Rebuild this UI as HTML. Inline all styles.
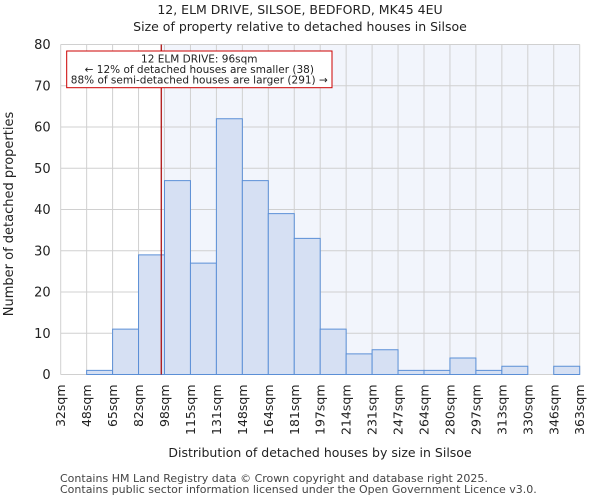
<!DOCTYPE html>
<html><head><meta charset="utf-8"><style>
body{margin:0;background:#fff;font-family:"DejaVu Sans","Liberation Sans",sans-serif;}
text{font-family:"DejaVu Sans","Liberation Sans",sans-serif;}
</style></head><body>
<svg id="chart" width="600" height="500" xmlns="http://www.w3.org/2000/svg">
<text x="300" y="14" text-anchor="middle" font-size="12.5" fill="#222">12, ELM DRIVE, SILSOE, BEDFORD, MK45 4EU</text>
<text x="300" y="31" text-anchor="middle" font-size="12.5" fill="#222">Size of property relative to detached houses in Silsoe</text>
<g id="plot"></g>
<text x="320" y="457" text-anchor="middle" font-size="12.5" fill="#222">Distribution of detached houses by size in Silsoe</text>
<text transform="translate(13,214) rotate(-90)" text-anchor="middle" font-size="13" fill="#222">Number of detached properties</text>
<text x="60" y="482" font-size="11" fill="#444">Contains HM Land Registry data © Crown copyright and database right 2025.</text>
<text x="60" y="493" font-size="11" fill="#444">Contains public sector information licensed under the Open Government Licence v3.0.</text>
</svg>
<script>
const binLabels=["32sqm","48sqm","65sqm","82sqm","98sqm","115sqm","131sqm","148sqm","164sqm","181sqm","197sqm","214sqm","231sqm","247sqm","264sqm","280sqm","297sqm","313sqm","330sqm","346sqm","363sqm"];
const binEdges=[32,48,65,82,98,115,131,148,164,181,197,214,231,247,264,280,297,313,330,346,363];
const counts=[0,1,11,29,47,27,62,47,39,33,11,5,6,1,1,4,1,2,0,2];
const yTicks=[0,10,20,30,40,50,60,70,80];
const propertySize=96;
const NS="http://www.w3.org/2000/svg";
const L=60.7,R=579.7,T=44.5,B=374.5,yMax=80;
const nb=counts.length;
function xIdx(i){return L+(R-L)*i/nb;}
function xVal(v){let i=0;while(i<nb-1&&v>binEdges[i+1])i++;return xIdx(i)+(v-binEdges[i])/(binEdges[i+1]-binEdges[i])*(R-L)/nb;}
function y(v){return B-(B-T)*v/yMax;}
const g=document.getElementById('plot');
function mk(t,a){const e=document.createElementNS(NS,t);for(const k in a)e.setAttribute(k,a[k]);g.appendChild(e);return e;}
const mx=xVal(propertySize);
let sh=mk('rect',{x:mx,y:T,width:R-mx,height:B-T,fill:'#f2f5fc'});


for(let i=0;i<=nb;i++){let l=mk('line',{x1:xIdx(i),x2:xIdx(i),y1:T,y2:B,stroke:'#d0d0d0','stroke-width':1});

}
yTicks.forEach(t=>{let l=mk('line',{x1:L,x2:R,y1:y(t),y2:y(t),stroke:'#d0d0d0','stroke-width':1});


let tx=mk('text',{x:L-10,y:y(t)+4.5,'text-anchor':'end','font-size':13,fill:'#222'});tx.textContent=t;

});
counts.forEach((c,i)=>{if(c<=0)return;let r=mk('rect',{x:xIdx(i),y:y(c),width:(R-L)/nb,height:B-y(c),fill:'#d6e0f3',stroke:'#5b8fd6','stroke-width':1});

});
binLabels.forEach((s,i)=>{let tx=mk('text',{transform:`translate(${xIdx(i)+4.5},${B+10}) rotate(-90)`,'text-anchor':'end','font-size':12.5,fill:'#222'});tx.textContent=s;

});
let ml=mk('line',{x1:mx,x2:mx,y1:T,y2:B,stroke:'#aa0000','stroke-width':1.2});


let bx=mk('rect',{x:66.7,y:51,width:265.3,height:36.7,fill:'#fff',stroke:'#cc0000','stroke-width':1});


["12 ELM DRIVE: 96sqm","← 12% of detached houses are smaller (38)","88% of semi-detached houses are larger (291) →"].forEach((s,i)=>{let tx=mk('text',{x:199.3,y:62.5+i*10.5,'text-anchor':'middle','font-size':10.5,fill:'#222'});tx.textContent=s;

});
</script>
</body></html>
